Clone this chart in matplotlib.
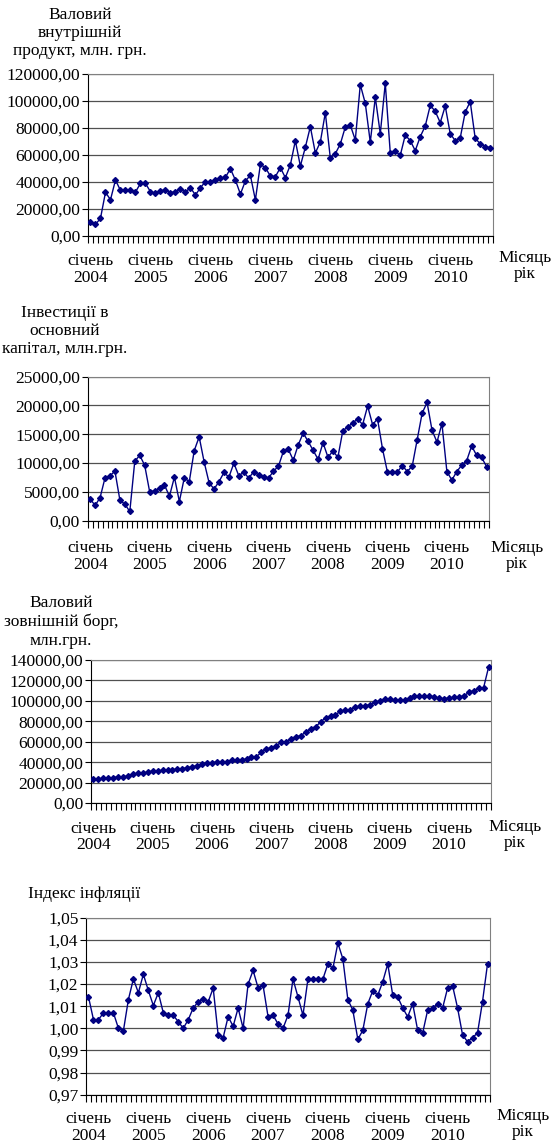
import matplotlib
matplotlib.use('Agg')
import matplotlib.pyplot as plt
import numpy as np
from matplotlib.transforms import blended_transform_factory

plt.rcParams['font.family'] = ['Liberation Serif', 'DejaVu Serif']

# місяці: січень 2004 ... вересень 2010
years = [2004, 2005, 2006, 2007, 2008, 2009, 2010]

gdp = [10400, 8400, 12900, 32200, 26700, 41300, 33600, 33600, 33600, 32400, 38800, 38800,
       32700, 31400, 33200, 34100, 31900, 32700, 34900, 32400, 35600, 30200, 35600, 40100,
       40100, 41300, 42800, 43300, 49700, 41300, 30900, 40600, 44800, 26500, 52900, 50500,
       44300, 43800, 50500, 43100, 52500, 70500, 51700, 65600, 80900, 61400, 69500, 91300,
       57600, 60900, 68000, 80700, 82100, 71000, 112100, 98200, 69300, 102700, 75700, 113100,
       61400, 62800, 59600, 74700, 70500, 63100, 73500, 81400, 96700, 92300, 83900, 96200,
       75700, 70500, 72500, 91800, 99500, 72200, 68300, 66100, 65300]

invest = [3780, 2640, 4010, 7450, 7800, 8600, 3560, 2870, 1600, 10320, 11350, 9630,
          5050, 5160, 5680, 6190, 4240, 7570, 3330, 7450, 6770, 12160, 14560, 10210,
          6590, 5500, 6770, 8370, 7570, 9980, 7800, 8430, 7400, 8490, 7970, 7630,
          7400, 8600, 9460, 12040, 12390, 10490, 13190, 15200, 13760, 12210, 10670, 13530,
          11010, 12100, 11010, 15650, 16230, 17030, 17600, 16690, 19900, 16690, 17660, 12500,
          8430, 8430, 8430, 9580, 8540, 9460, 14050, 18640, 20530, 15710, 13650, 16860,
          8540, 7050, 8540, 9630, 10440, 12960, 11350, 11010, 9400]

debt = [23160, 23160, 24140, 24140, 24800, 25770, 25770, 26430, 28380, 29040, 29360, 30340,
        31320, 31320, 31970, 31970, 32300, 33600, 33600, 34580, 35560, 36540, 38170, 38820,
        39150, 40460, 40460, 40460, 41760, 41760, 42090, 43070, 45350, 45350, 49590, 52850,
        54160, 56120, 59380, 60030, 62970, 64920, 65900, 69490, 72760, 74710, 79280, 83520,
        85150, 86460, 89720, 91030, 91030, 93960, 94940, 95270, 96250, 98530, 100160, 101790,
        101470, 100820, 100490, 100490, 102450, 104400, 104730, 104730, 104730, 104080, 102450, 102120,
        102770, 103430, 104080, 104730, 108320, 109950, 112230, 112890, 132790]

inflation = [1.0142, 1.0039, 1.0039, 1.0070, 1.0070, 1.0070, 1.0000, 0.9989, 1.0130, 1.0223, 1.0161, 1.0244,
             1.0171, 1.0103, 1.0161, 1.0070, 1.0059, 1.0059, 1.0030, 1.0000, 1.0039, 1.0092, 1.0120, 1.0132,
             1.0120, 1.0182, 0.9970, 0.9958, 1.0053, 1.0009, 1.0092, 1.0000, 1.0200, 1.0262, 1.0183, 1.0194,
             1.0053, 1.0059, 1.0020, 1.0000, 1.0059, 1.0223, 1.0142, 1.0059, 1.0223, 1.0223, 1.0223, 1.0223,
             1.0291, 1.0271, 1.0385, 1.0314, 1.0130, 1.0082, 0.9950, 0.9991, 1.0111, 1.0170, 1.0150, 1.0211,
             1.0291, 1.0150, 1.0142, 1.0092, 1.0052, 1.0111, 0.9991, 0.9979, 1.0082, 1.0092, 1.0111, 1.0092,
             1.0182, 1.0192, 1.0092, 0.9970, 0.9939, 0.9958, 0.9979, 1.0121, 1.0291]

W, H = 551, 1145
FS = 12.5
NAVY = '#000080'

fig = plt.figure(figsize=(W / 100, H / 100), dpi=100)


def panel(values, box, yticks, fmt, title, title_xy, title_ha='center', label_dy=34, mr_xy=(520, 266)):
    left, right, top, bottom = box
    ax = fig.add_axes([left / W, 1 - bottom / H, (right - left) / W, (bottom - top) / H])
    x = np.arange(len(values))
    ax.plot(x, values, color=NAVY, lw=1.0, marker='D', ms=3.0, mec=NAVY, mfc=NAVY, zorder=3)
    ax.set_xlim(-0.5, len(values) - 0.5)
    ax.set_ylim(yticks[0], yticks[-1])
    ax.set_yticks(yticks)
    ax.set_yticklabels([fmt.format(v).replace('.', ',') for v in yticks], fontsize=FS)
    ax.grid(axis='y', color='#505050', lw=0.9)
    ax.set_axisbelow(True)
    # поділки осі x на межах категорій
    ax.set_xticks(np.arange(-0.5, len(values)), minor=False)
    ax.set_xticklabels([])
    ax.tick_params(axis='x', direction='out', length=5, width=0.8, color='black')
    ax.tick_params(axis='y', direction='out', length=4, width=0.8, pad=1.5)
    for s in ['top', 'right']:
        ax.spines[s].set_color('#808080')
    for s in ['left', 'bottom']:
        ax.spines[s].set_color('black')
    trans = blended_transform_factory(ax.transData, ax.transAxes)
    h_px = bottom - top
    for k, yr in enumerate(years):
        ax.text(12 * k, -label_dy / h_px, f'січень\n{yr}', transform=trans, ha='center', va='center',
                fontsize=FS, linespacing=1.05)
    fig.text(mr_xy[0] / W, 1 - mr_xy[1] / H, 'Місяць\nрік', ha='center', va='center',
             fontsize=FS, linespacing=1.05)
    fig.text(title_xy[0] / W, 1 - title_xy[1] / H, title, ha=title_ha, va='center',
             fontsize=FS, linespacing=1.2, multialignment='center')
    return ax


panel(gdp, (88, 492.7, 74, 235.7), np.arange(0, 120001, 20000), '{:.2f}',
      'Валовий\nвнутрішній\nпродукт, млн. грн.', (80, 33), mr_xy=(525, 266))
panel(invest, (87.7, 489, 376.7, 520.7), np.arange(0, 25001, 5000), '{:.2f}',
      'Інвестиції в\nосновний\nкапітал, млн.грн.', (65, 331), label_dy=36, mr_xy=(517, 556))
panel(debt, (91, 491, 660, 803), np.arange(0, 140001, 20000), '{:.2f}',
      'Валовий\nзовнішній борг,\nмлн.грн.', (61, 622), label_dy=34, mr_xy=(515, 835))
panel(inflation, (86, 490, 917.7, 1094.7), np.round(np.arange(0.97, 1.0501, 0.01), 2), '{:.2f}',
      'Індекс інфляції', (84, 894), label_dy=33, mr_xy=(523, 1124))

fig.savefig('out.png', dpi=100)
